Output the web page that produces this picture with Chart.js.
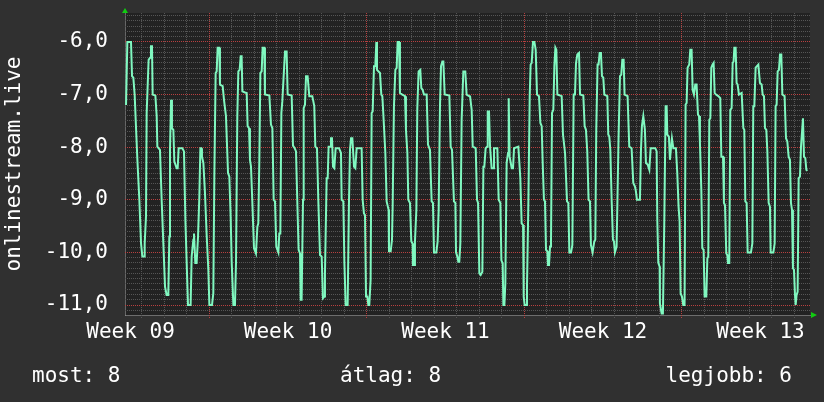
<!DOCTYPE html>
<html>
<head>
<meta charset="utf-8">
<script src="https://cdn.jsdelivr.net/npm/chart.js@4/dist/chart.umd.min.js"></script>
<style>
  html, body { margin: 0; padding: 0; background: #303030; }
  #wrap { width: 824px; height: 402px; }
</style>
</head>
<body>
<div id="wrap"><canvas id="chart" width="824" height="402"></canvas></div>
<script>
// hours since the left edge of the graph, and the value read at that moment
const hours = [
  1.1, 2.5, 6.4, 7.5, 8.9, 10.3, 11.4, 13.2, 15.3, 17.1,
  18.5, 20.3, 21.0, 22.4, 23.1, 25.2, 26.7, 27.7, 28.8, 29.5,
  32.4, 33.8, 34.5, 37.3, 39.1, 40.9, 42.7, 44.4, 46.2, 47.3,
  48.0, 49.1, 50.1, 51.6, 52.6, 55.1, 56.2, 57.2, 61.2, 62.9,
  64.4, 65.8, 67.2, 70.0, 71.1, 72.9, 73.6, 75.0, 76.4, 77.9,
  79.3, 80.4, 81.4, 82.1, 83.6, 85.3, 87.1, 88.9, 90.0, 92.8,
  94.2, 95.3, 96.7, 97.8, 98.8, 100.6, 101.3, 104.2, 105.6, 107.7,
  109.9, 111.3, 112.7, 113.8, 115.6, 117.3, 118.4, 119.8,
  120.9, 122.3, 123.4, 124.4, 125.2, 128.0, 129.8, 130.8, 132.3, 133.3,
  134.4, 135.8, 137.6, 139.7, 141.2, 142.2, 143.3, 144.4, 145.8, 146.8,
  148.6, 149.3, 154.0, 155.7, 157.2, 158.6, 160.0, 161.4, 163.6, 164.6,
  165.7, 166.8, 167.8, 169.6, 170.7, 172.4, 173.5, 177.8, 179.2, 181.0,
  182.4, 183.8, 185.2, 186.7, 187.4, 188.4, 189.9, 190.6, 192.0, 193.1,
  194.8, 196.6, 199.8, 201.9, 203.0, 204.8, 206.2, 208.0, 209.8, 211.2,
  212.6, 213.3, 214.0, 215.1, 216.2, 217.2, 218.7, 219.7, 220.8, 221.9,
  223.3, 224.7, 228.3, 230.4, 231.1, 232.9, 234.0, 235.4, 237.5, 238.9,
  240.0, 241.1, 242.5,
  244.3, 245.7, 247.1, 252.4, 253.5, 254.9, 256.0, 257.1, 258.5, 259.6,
  260.6, 262.0, 263.1, 264.2, 265.6, 267.0, 268.1, 268.8, 272.0, 273.4,
  274.5, 275.6, 277.7, 279.1, 281.2, 281.6, 283.4, 284.8, 285.5, 286.9,
  288.4, 289.8, 290.8, 292.3, 293.3, 295.8, 298.7, 299.7, 301.2, 302.2,
  304.0, 305.4, 306.8, 307.2, 308.3, 309.3, 310.8, 311.8, 313.2, 315.0,
  316.1, 317.5, 318.9, 321.8, 323.2, 325.3, 327.1, 328.5, 329.6, 332.1,
  333.5, 334.6, 336.0, 337.1, 338.5, 339.6, 341.0, 346.0, 347.4, 348.8,
  350.9, 352.4, 353.1, 354.5, 355.6, 356.6, 357.7, 359.1, 360.9, 363.0,
  364.4, 367.3,
  368.0, 369.8, 370.9, 374.1, 375.5, 376.6, 378.0, 379.4, 381.2, 382.3,
  383.3, 384.7, 386.2, 386.9, 388.3, 389.4, 391.1, 392.6, 393.6, 397.2,
  398.6, 400.4, 401.5, 402.9, 403.6, 404.7, 405.7, 407.1, 408.6, 409.3,
  410.3, 412.5, 413.9, 415.0, 419.6, 421.7, 423.1, 424.6, 425.3, 426.3,
  427.8, 428.8, 430.3, 431.7, 432.7, 433.8, 435.2, 436.7, 438.1, 439.5,
  441.6, 443.1, 444.5, 445.5, 446.9, 448.0, 449.1, 450.5, 451.2, 452.3,
  453.4, 454.4, 455.5, 456.9, 458.0, 459.1, 460.1, 461.2, 465.8, 467.2,
  469.4, 471.5, 472.9, 474.0, 475.8, 477.2, 478.6, 480.0, 481.1, 482.5,
  484.3, 485.4,
  488.9, 490.3, 491.7, 493.1, 494.5, 496.0, 497.0, 498.8, 500.6, 501.7,
  502.7, 504.1, 505.2, 506.3, 507.7, 508.8, 510.2, 511.3, 514.5, 515.5,
  516.6, 517.7, 519.1, 520.5, 521.6, 522.6, 524.4, 526.5, 528.0, 529.4,
  530.5, 531.9, 532.9, 536.1, 537.9, 540.4, 542.2, 544.0, 545.0, 546.1,
  549.3, 550.4, 551.4, 552.9, 554.6, 555.7, 557.5, 559.3, 560.7, 565.7,
  567.1, 567.8, 568.9, 570.3, 570.6, 572.4, 573.8, 575.3, 576.7, 577.8,
  578.5, 580.2, 581.3, 582.4, 583.4, 584.9, 587.7, 589.1, 590.5, 591.6,
  592.7, 594.1, 595.5, 596.9, 598.0, 599.1, 600.1, 601.9, 603.0, 604.4,
  605.5, 606.9, 608.3, 609.7,
  610.1, 611.2, 612.3, 613.3, 614.8, 615.8, 617.2, 618.3, 620.1, 621.2,
  622.2, 623.3, 624.4, 625.4, 626.8, 627.9, 629.0, 630.4, 632.9, 635.0,
  636.1, 637.9, 638.9, 640.0, 641.4, 642.5, 643.2, 644.6, 645.7, 647.1,
  648.2, 649.2, 650.0, 651.4, 652.4, 653.5, 654.9, 657.8, 659.6, 660.6,
  661.7, 663.1, 664.2, 667.7, 669.2, 670.2, 671.3, 672.7, 674.1, 675.6,
  677.3, 679.1, 680.2, 681.6, 682.7, 684.1, 685.2, 686.6, 688.0, 688.7,
  691.6, 693.0, 694.0, 695.1, 696.2, 697.6, 698.7, 700.1, 701.2, 703.6,
  705.1, 706.5, 707.9, 709.3, 710.4, 711.5, 712.5, 713.6, 714.7, 715.4,
  716.4, 717.5, 718.6, 720.0, 721.1, 722.1, 723.2, 724.3, 725.7, 726.8,
  727.8
];
const values = [
  -7.2, -6.0, -6.0, -6.65, -6.68, -7.0, -7.48, -8.24, -9.0, -9.83,
  -10.08, -10.08, -9.83, -9.32, -7.35, -6.34, -6.3, -6.08, -6.08, -7.0,
  -7.02, -7.41, -7.99, -8.05, -9.0, -9.83, -10.65, -10.81, -10.81, -9.7,
  -8.05, -7.1, -7.64, -7.67, -8.27, -8.4, -8.4, -8.02, -8.02, -8.08,
  -9.38, -10.2, -11.0, -11.0, -10.08, -9.76, -9.64, -10.2, -10.2, -9.7,
  -8.94, -8.02, -8.02, -8.18, -8.3, -8.87, -9.67, -10.33, -11.0, -11.0,
  -10.78, -8.56, -6.59, -6.56, -6.11, -6.11, -6.81, -6.84, -7.1, -7.41,
  -8.49, -8.56, -9.32, -10.18, -11.0, -11.0, -10.2, -7.41,
  -6.56, -6.53, -6.27, -6.27, -6.94, -6.96, -6.97, -7.6, -7.64, -8.24,
  -8.37, -9.03, -9.92, -10.02, -9.51, -9.45, -8.24, -6.59, -6.56, -6.11,
  -6.11, -7.0, -7.02, -7.57, -7.64, -9.0, -9.03, -9.89, -10.0, -9.64,
  -9.64, -7.35, -7.13, -6.53, -6.18, -6.18, -7.0, -7.02, -7.97, -8.02,
  -8.08, -9.03, -9.95, -10.02, -10.9, -10.9, -9.0, -7.26, -7.19, -6.65,
  -6.65, -7.03, -7.03, -7.22, -7.99, -8.02, -9.0, -10.05, -10.08, -10.87,
  -10.84, -10.4, -9.7, -8.59, -8.59, -7.99, -7.99, -7.83, -7.83, -8.37,
  -8.4, -8.02, -8.02, -8.11, -9.0, -9.03, -10.18, -11.0, -11.0, -9.06,
  -8.05, -7.83, -7.83,
  -8.37, -8.4, -8.02, -8.02, -9.0, -9.26, -9.29, -10.84, -10.84, -11.0,
  -11.0, -10.52, -7.35, -7.32, -6.46, -6.46, -6.0, -6.53, -6.59, -7.0,
  -7.03, -7.38, -8.11, -9.03, -9.19, -9.98, -9.98, -9.76, -9.13, -7.22,
  -6.53, -6.49, -6.0, -6.0, -6.97, -7.0, -7.03, -7.67, -8.11, -9.0,
  -9.06, -9.79, -9.83, -10.24, -10.24, -9.79, -9.19, -7.26, -6.56, -6.53,
  -6.88, -6.91, -7.0, -7.0, -7.95, -8.05, -9.03, -9.06, -10.0, -10.0,
  -9.79, -9.19, -7.22, -6.46, -6.37, -6.37, -7.0, -7.02, -7.99, -8.05,
  -9.03, -9.06, -10.0, -10.08, -10.18, -10.18, -9.83, -7.48, -6.56, -6.56,
  -7.0, -7.03,
  -7.02, -7.29, -7.99, -8.02, -9.0, -9.06, -10.4, -10.43, -10.37, -8.37,
  -8.37, -8.02, -7.99, -7.32, -7.32, -7.99, -8.4, -8.4, -8.02, -8.02,
  -9.0, -9.06, -10.15, -10.21, -11.0, -11.0, -10.59, -8.3, -8.11, -7.07,
  -8.18, -8.4, -8.4, -8.02, -7.99, -8.59, -9.45, -9.48, -10.84, -11.0,
  -11.0, -10.65, -9.03, -7.03, -6.43, -6.4, -6.0, -6.0, -6.15, -7.0,
  -7.03, -7.54, -7.6, -8.27, -9.0, -9.03, -9.95, -9.98, -10.24, -10.24,
  -9.89, -9.83, -7.35, -7.29, -6.46, -6.11, -6.15, -7.0, -7.03, -7.76,
  -8.11, -9.03, -9.06, -10.0, -10.0, -9.86, -7.0, -7.0, -6.4, -6.24,
  -6.21, -7.0,
  -7.02, -7.6, -7.67, -8.08, -9.0, -9.03, -9.86, -10.0, -9.79, -9.76,
  -7.67, -6.43, -6.43, -6.21, -6.21, -6.65, -6.68, -7.0, -7.03, -7.76,
  -7.8, -8.05, -9.0, -9.76, -9.79, -10.0, -9.89, -7.8, -6.65, -6.62,
  -6.34, -6.34, -7.0, -7.03, -7.99, -8.02, -8.68, -8.75, -8.84, -9.0,
  -9.0, -8.05, -7.6, -7.41, -7.67, -8.3, -8.33, -8.43, -8.02, -8.02,
  -8.08, -9.38, -10.2, -10.27, -10.97, -11.16, -11.16, -9.38, -7.22, -7.22,
  -7.76, -7.8, -8.24, -8.02, -7.83, -8.02, -8.02, -8.49, -9.13, -9.41,
  -10.78, -10.84, -11.0, -11.0, -7.19, -7.16, -6.49, -6.43, -6.15, -6.15,
  -6.91, -7.0, -6.81, -6.81,
  -6.81, -7.38, -7.41, -7.92, -8.84, -9.92, -9.95, -10.84, -10.84, -10.11,
  -10.08, -7.48, -7.45, -6.49, -6.43, -6.4, -6.97, -7.0, -7.03, -7.07,
  -8.18, -8.18, -9.06, -9.1, -10.02, -10.05, -10.2, -10.2, -7.29, -7.26,
  -6.4, -6.37, -6.11, -6.11, -6.78, -6.81, -7.0, -6.97, -7.64, -7.67,
  -9.03, -9.06, -10.0, -10.0, -9.83, -7.22, -7.22, -6.49, -6.46, -6.43,
  -6.78, -6.81, -7.0, -7.03, -7.64, -7.67, -8.08, -9.06, -9.13, -10.0,
  -10.0, -9.83, -7.22, -7.19, -6.56, -6.53, -6.24, -6.24, -7.0, -7.03,
  -7.83, -7.89, -8.18, -8.24, -9.06, -9.19, -10.3, -10.33, -10.81, -11.0,
  -10.81, -10.75, -8.59, -8.56, -7.99, -7.99, -7.45, -8.18, -8.21, -8.43,
  -8.45
];

// x axis: midnight lines every day, red line at each week start, week name mid-week
const weekLabels = ['Week 09', 'Week 10', 'Week 11', 'Week 12', 'Week 13'];
const weekLabelHours = [5.9, 173.9, 341.9, 509.9, 677.9];
const firstMidnight = 17.9;
const firstMondayDay = 3;   // 4th midnight line is the first week start
const dayCount = 30;
const spanHours = 730.7;

// bottom legend
const legendTexts = ['most: 8', 'átlag: 8', 'legjobb: 6'];

const MONO = '"DejaVu Sans Mono", monospace';
Chart.defaults.font.family = MONO;
Chart.defaults.font.size = 21;
Chart.defaults.color = '#ffffff';

const GRID_GRAY = '#555555';
const GRID_RED  = '#b84040';

const crisp = p => Math.round(p - 0.5) + 0.5;

// rrdtool look: backgrounds, dotted grid, arrows, legend line
const rrdFrame = {
  id: 'rrdFrame',
  beforeDraw(chart) {
    const { ctx, chartArea: a } = chart;
    ctx.save();
    ctx.fillStyle = '#303030';
    ctx.fillRect(0, 0, chart.width, chart.height);
    ctx.fillStyle = '#222222';
    ctx.fillRect(a.left, a.top, a.right - a.left, a.bottom - a.top);
    ctx.restore();
  },
  beforeDatasetsDraw(chart) {
    const { ctx, chartArea: a, scales: { x, y } } = chart;
    ctx.save();
    ctx.lineWidth = 1;
    ctx.setLineDash([1, 1]);
    // minor lines first, major red lines on top
    const rows = [];
    for (let i = -111; i <= -55; i++) rows.push(i);
    const days = [];
    for (let d = 0; d < dayCount; d++) days.push(d);
    const hLine = i => {
      const py = crisp(y.getPixelForValue(i / 10));
      ctx.beginPath();
      ctx.moveTo(a.left, py);
      ctx.lineTo(a.right, py);
      ctx.stroke();
    };
    const vLine = d => {
      const px = crisp(x.getPixelForValue(firstMidnight + 24 * d));
      ctx.beginPath();
      ctx.moveTo(px, a.top);
      ctx.lineTo(px, a.bottom + 3);
      ctx.stroke();
    };
    const isMajorRow = i => Math.abs(i % 10) === 0;
    const isWeekDay = d => (d - firstMondayDay) % 7 === 0;
    ctx.strokeStyle = GRID_GRAY;
    rows.filter(i => !isMajorRow(i)).forEach(hLine);
    days.filter(d => !isWeekDay(d)).forEach(vLine);
    ctx.strokeStyle = GRID_RED;
    rows.filter(isMajorRow).forEach(hLine);
    days.filter(isWeekDay).forEach(vLine);
    ctx.restore();
  },
  afterDraw(chart) {
    const { ctx, chartArea: a } = chart;
    ctx.save();
    // little green arrows at the axis ends
    ctx.fillStyle = '#11cc11';
    ctx.beginPath();
    ctx.moveTo(a.left - 3, a.top);
    ctx.lineTo(a.left + 3, a.top);
    ctx.lineTo(a.left, a.top - 5);
    ctx.closePath();
    ctx.fill();
    ctx.beginPath();
    ctx.moveTo(a.right + 1, a.bottom - 3);
    ctx.lineTo(a.right + 1, a.bottom + 3);
    ctx.lineTo(a.right + 7, a.bottom);
    ctx.closePath();
    ctx.fill();

    ctx.font = '21px ' + MONO;
    ctx.fillStyle = '#ffffff';
    ctx.textBaseline = 'alphabetic';
    ctx.textAlign = 'left';
    ctx.fillText(legendTexts[0], 32, 382);
    ctx.fillText(legendTexts[1], 340, 382);
    ctx.textAlign = 'right';
    ctx.fillText(legendTexts[2], 792, 382);
    ctx.restore();
  }
};

new Chart(document.getElementById('chart'), {
  type: 'line',
  data: {
    datasets: [{
      label: 'onlinestream.live',
      data: hours.map((h, i) => ({ x: h, y: values[i] })),
      borderColor: '#80f8c0',
      borderWidth: 2,
      pointRadius: 0,
      tension: 0,
      fill: false,
    }],
  },
  options: {
    responsive: false,
    animation: false,
    events: [],
    layout: { padding: { top: 13, right: 14, left: 0, bottom: 0 } },
    plugins: { legend: { display: false }, tooltip: { enabled: false } },
    scales: {
      x: {
        type: 'linear',
        min: 0,
        max: spanHours,
        afterBuildTicks(scale) {
          scale.ticks = weekLabelHours.map((h, i) => ({ value: h, text: weekLabels[i] }));
        },
        afterFit(scale) {
          scale.height = 87;
          scale.paddingLeft = 0;
          scale.paddingRight = 0;
        },
        ticks: {
          autoSkip: false,
          maxRotation: 0,
          padding: 5,
          callback: (v, i, ticks) => ticks[i].text,
        },
        grid: { display: false, drawTicks: false },
        border: { color: 'rgba(150,150,150,0.6)' },
      },
      y: {
        min: -11.19,
        max: -5.45,
        afterBuildTicks(scale) {
          const ticks = [];
          for (let v = -11; v <= -6; v++) ticks.push({ value: v });
          scale.ticks = ticks;
        },
        afterFit(scale) {
          scale.width = 125;
          scale.paddingTop = 0;
          scale.paddingBottom = 0;
        },
        ticks: {
          autoSkip: false,
          padding: 17,
          callback: v => v.toFixed(1).replace('.', ','),
        },
        grid: { display: false, drawTicks: false },
        border: { color: 'rgba(150,150,150,0.6)' },
        title: {
          display: true,
          text: 'onlinestream.live',
          padding: { top: 2, bottom: 2 },
          font: { size: 21 },
        },
      },
    },
  },
  plugins: [rrdFrame],
});
</script>
</body>
</html>
